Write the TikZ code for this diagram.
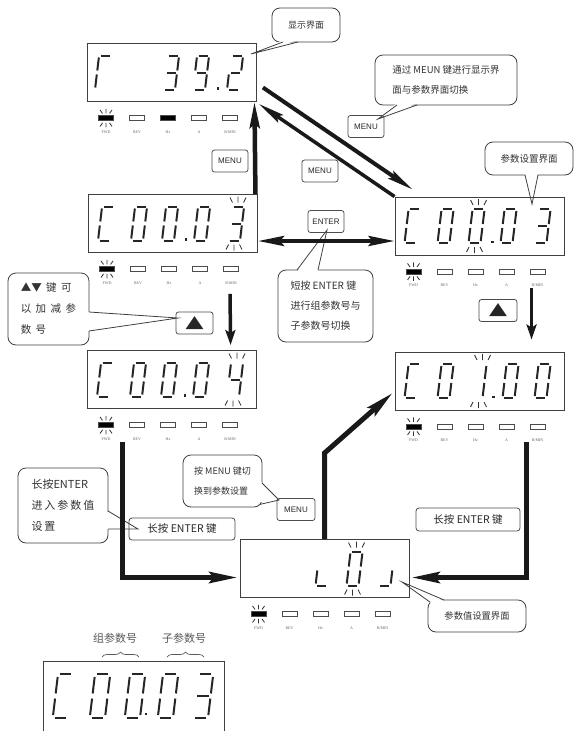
\documentclass[tikz,border=0pt]{standalone}
\usepackage{fontspec}
\setmainfont{Liberation Serif}
\newfontfamily\cjk{Noto Sans CJK SC}
\newfontfamily\btnfont{Liberation Sans}
\newfontfamily\symfont{DejaVu Sans}
\usetikzlibrary{arrows.meta,calc,decorations.pathreplacing}

\tikzset{
  segline/.style={line width=2pt, draw=black!85, line cap=butt},
  blk/.style={line width=0.8pt, draw=black!80},
  disp/.style={draw=black!75, line width=0.9pt, minimum width=169pt, minimum height=58pt, inner sep=0pt},
  ind/.style={draw=black!70, line width=0.6pt, minimum width=15pt, minimum height=5pt, inner sep=0pt},
  indlab/.style={font=\fontsize{4}{4}\selectfont, text=black!60, inner sep=0pt},
  btn/.style={draw=black!70, line width=0.8pt, rounded corners=2.5pt, minimum width=36pt, minimum height=22pt, inner sep=0pt, font=\btnfont\fontsize{8}{8}\selectfont, text=black!85},
  lbox/.style={draw=black!70, line width=0.8pt, rounded corners=3pt, minimum width=106pt, minimum height=22pt, inner sep=0pt, font=\cjk\fontsize{10.5}{12}\selectfont, text=black!85},
  bubble/.style={draw=black!75, line width=0.8pt, rounded corners=8pt, fill=white, inner sep=0pt, align=left, text=black!80},
  bline/.style={draw=black!75, line width=0.8pt},
  bigarr/.style={line width=4.5pt, draw=black!90, -{Stealth[length=26pt,width=10pt,inset=4pt]}},
  diagarr/.style={line width=4pt, draw=black!90, -{Stealth[length=26pt,width=9pt,inset=4pt]}},
  dblarr/.style={line width=4pt, draw=black!90, {Stealth[length=26pt,width=10pt,inset=4pt]}-{Stealth[length=26pt,width=10pt,inset=4pt]}},
  smallarr/.style={line width=3.5pt, draw=black!90, -{Stealth[length=15pt,width=10pt,inset=3pt]}},
  patharr/.style={line width=5pt, draw=black!90, -{Stealth[length=28pt,width=11pt,inset=4pt]}},
  grouplab/.style={font=\cjk\fontsize{11}{12}\selectfont, text=black!65, inner sep=0pt},
}

% seven-segment pieces
\def\dsega{\draw[segline] (-4.5,-17) -- (4.5,-17);}
\def\dsegb{\draw[segline] (6,-15) -- (6,-2);}
\def\dsegc{\draw[segline] (6,2) -- (6,15);}
\def\dsegd{\draw[segline] (-4.5,17) -- (4.5,17);}
\def\dsege{\draw[segline] (-6,2) -- (-6,15);}
\def\dsegf{\draw[segline] (-6,-15) -- (-6,-2);}
\def\dsegg{\draw[segline] (-4.5,0) -- (4.5,0);}
\newcommand\segset[1]{\foreach \s in {#1}{\csname dseg\s\endcsname}}
\newcommand\sdigit[4][1]{\begin{scope}[shift={(#2,#3)},scale=#1,xslant=0.12]\segset{#4}\end{scope}}
\newcommand\segdot[2]{\fill[black!85] (#1-1.4,#2-1.4) rectangle (#1+1.4,#2+1.4);}
\newcommand\blinkmk[1]{%
  \draw[blk] (#1-6,-26) -- (#1-3.5,-21) (#1+2,-27) -- (#1+2,-21) (#1+10,-26) -- (#1+7.5,-21);
  \draw[blk] (#1-10,26) -- (#1-7.5,21) (#1-2,27) -- (#1-2,21) (#1+6,26) -- (#1+3.5,21);}
\newcommand\dpanel[4]{%
  \node[disp] (#1) at (#2,#3) {};
  \begin{scope}[shift={(#1.south west)}]
    \node[ind, fill=black] (#1-fwd) at (19,16) {};
    \node[ind] (#1-rev) at (50,16) {};
    \node[ind, fill=#4] (#1-hz) at (81,16) {};
    \node[ind] (#1-a) at (112,16) {};
    \node[ind] (#1-rmin) at (143,16) {};
    \node[indlab] (#1-fwdl) at (19,30) {FWD};
    \node[indlab] (#1-revl) at (50,30) {REV};
    \node[indlab] (#1-hzl) at (81,30) {Hz};
    \node[indlab] (#1-al) at (112,30) {A};
    \node[indlab] (#1-rminl) at (143,30) {R/MIN};
    \draw[blk] (13,8) -- (15.5,11.5) (19,7) -- (19,11.5) (25,8) -- (22.5,11.5);
    \draw[blk] (13,24.5) -- (15.5,21) (19,25.5) -- (19,21) (25,24.5) -- (22.5,21);
  \end{scope}}
\newcommand\btail[4]{%
  \fill[white] ($(#1)+(#4)$) -- (#3) -- ($(#2)+(#4)$) -- cycle;
  \draw[bline] (#1) -- (#3) -- (#2);}

\begin{document}
\begin{tikzpicture}[x=1pt,y=-1pt]
\useasboundingbox (0,0) rectangle (575,731);
\fill[white] (0,0) rectangle (575,731);

% ---------- callout bubbles ----------
\node[bubble, minimum width=68pt, minimum height=34pt, font=\cjk\fontsize{9}{11}\selectfont] (b1) at (306,25) {显示界面};
\btail{283,42}{298,42}{251,54}{0,-2}

\node[bubble, minimum width=142pt, minimum height=50pt, font=\cjk\fontsize{9.5}{20}\selectfont] (b2) at (446,80) {通过~MEUN~键进行显示界\\面与参数界面切换};
\btail{397,105}{417,105}{378,119}{0,-2}

\node[bubble, minimum width=88pt, minimum height=33pt, font=\cjk\fontsize{9.5}{11}\selectfont] (b3) at (529,158.5) {参数设置界面};
\btail{525,175}{538,175}{532,204}{0,-2}

\node[bubble, minimum width=95pt, minimum height=72pt, font=\cjk\fontsize{10}{20}\selectfont] (b4) at (325.5,306) {短按~ENTER~键\\进行组参数号与\\子参数号切换};
\btail{297,270}{318,270}{327,230}{0,2}

\node[bubble, minimum width=81pt, minimum height=72pt, font=\cjk\fontsize{10.5}{21}\selectfont] (b5) at (48.5,309) {▲▼\hspace{4.5pt}键\hspace{4.5pt}可\\以\hspace{4.5pt}加\hspace{4.5pt}减\hspace{4.5pt}参\\数\hspace{4.5pt}号};
\btail{89,312}{89,331}{178,318}{-2,0}

\node[bubble, minimum width=79pt, minimum height=52pt, font=\cjk\fontsize{9}{20}\selectfont] (b6) at (222.5,481) {按~MENU~键切\\换到参数设置};
\btail{262,483}{259.5,504.5}{279,500}{-2,-2}

\node[bubble, minimum width=90pt, minimum height=75pt, font=\cjk\fontsize{11}{21}\selectfont] (b7) at (63,505.5) {长按ENTER\\进\hspace{2pt}入\hspace{2pt}参\hspace{2pt}数\hspace{2pt}值\\设\hspace{2pt}置};
\btail{108,511}{108,529}{138,529}{-2,0}

\node[bubble, minimum width=98pt, minimum height=32pt, font=\cjk\fontsize{9.3}{11}\selectfont] (b8) at (477,616) {参数值设置界面};
\btail{444,600}{430.3,602.3}{402,582}{2,2}

% ---------- display panels ----------
\dpanel{d1}{172}{72.5}{black}
\dpanel{d2}{173}{223.5}{white}
\dpanel{d3}{479.5}{226}{white}
\dpanel{d4}{172}{379.5}{white}
\dpanel{d5}{479.5}{381}{white}
\dpanel{d6}{324.5}{568.5}{white}

% d1: r  39.2
\begin{scope}[shift={(d1.west)}]
  \sdigit{16}{0}{a,e,f}
  \sdigit{84}{0}{a,b,c,d,g}
  \sdigit{114}{0}{a,b,c,d,f,g}
  \segdot{131}{16}
  \sdigit{148}{0}{a,b,d,e,g}
\end{scope}
% d2: C00.03 (last digit blinking)
\begin{scope}[shift={(d2.west)}]
  \sdigit{18}{0}{a,d,e,f}
  \sdigit{51}{0}{a,b,c,d,e,f}
  \sdigit{82}{0}{a,b,c,d,e,f}
  \segdot{98}{16}
  \sdigit{114}{0}{a,b,c,d,e,f}
  \sdigit{148}{0}{a,b,c,d,g}
  \blinkmk{148}
\end{scope}
% d3: C00.03 (third digit blinking)
\begin{scope}[shift={(d3.west)}]
  \sdigit{18}{0}{a,d,e,f}
  \sdigit{51}{0}{a,b,c,d,e,f}
  \sdigit{82}{0}{a,b,c,d,e,f}
  \segdot{98}{16}
  \sdigit{114}{0}{a,b,c,d,e,f}
  \sdigit{148}{0}{a,b,c,d,g}
  \blinkmk{82}
\end{scope}
% d4: C00.04
\begin{scope}[shift={(d4.west)}]
  \sdigit{18}{0}{a,d,e,f}
  \sdigit{51}{0}{a,b,c,d,e,f}
  \sdigit{82}{0}{a,b,c,d,e,f}
  \segdot{98}{16}
  \sdigit{114}{0}{a,b,c,d,e,f}
  \sdigit{148}{0}{b,c,f,g}
  \blinkmk{148}
\end{scope}
% d5: C01.00
\begin{scope}[shift={(d5.west)}]
  \sdigit{18}{0}{a,d,e,f}
  \sdigit{51}{0}{a,b,c,d,e,f}
  \sdigit{84}{0}{b,c}
  \segdot{99}{16}
  \sdigit{116}{0}{a,b,c,d,e,f}
  \sdigit{148}{0}{a,b,c,d,e,f}
  \blinkmk{86}
\end{scope}
% d6: value setting
\begin{scope}[shift={(d6.west)}]
  \sdigit{84}{0}{d,e}
  \sdigit{115}{0}{a,b,c,d,e,f}
  \sdigit{147}{0}{c,d}
  \blinkmk{115}
\end{scope}

% bottom panel (cut by the page edge)
\node[draw=black!75, line width=0.9pt, minimum width=181pt, minimum height=80pt, inner sep=0pt] (d7) at (133.5,701) {};
\sdigit[1.27]{63}{696}{a,d,e,f}
\sdigit[1.27]{100}{696}{a,b,c,d,e,f}
\sdigit[1.27]{135}{696}{a,b,c,d,e,f}
\segdot{146}{714}
\sdigit[1.27]{168}{696}{a,b,c,d,e,f}
\sdigit[1.27]{203}{696}{a,b,c,d,g}
\node[grouplab] (g1) at (115,638) {组参数号};
\node[grouplab] (g2) at (184,638) {子参数号};
\draw[black!65, line width=0.7pt, decorate, decoration={brace, amplitude=5pt}] (102,657) -- (139,657);
\draw[black!65, line width=0.7pt, decorate, decoration={brace, amplitude=5pt}] (167,657) -- (204,657);

% ---------- key buttons ----------
\node[btn] (m1) at (230,161) {MENU};
\node[btn] (m2) at (366,126.5) {MENU};
\node[btn] (m3) at (320,171) {MENU};
\node[btn] (ent) at (326,221.5) {ENTER};
\node[btn, minimum width=37pt] (up1) at (194.5,323) {\scalebox{1.3}[0.95]{\symfont\fontsize{18}{18}\selectfont ▲}};
\node[btn, minimum width=38pt] (up2) at (498,310.5) {\scalebox{1.3}[0.95]{\symfont\fontsize{18}{18}\selectfont ▲}};
\node[btn, minimum width=38pt] (m4) at (296,509.5) {MENU};
\node[lbox] (lb1) at (182,529) {长按~ENTER~键};
\node[lbox, minimum width=104pt, minimum height=23pt] (lb2) at (468,519.5) {长按~ENTER~键};

% ---------- connectors ----------
\draw[bigarr] ($(d2.north east)+(-2.5,0)$) -- ($(d1.south east)+(-2.5,0)$);

\coordinate (u0) at ($(d1.east)+(6,15)$);
\coordinate (u1) at ($(d3.north west)+(18,-7)$);
\draw[diagarr] (u0) -- (u1);
\coordinate (w1) at ($(d1.south east)+(2,2)$);
\draw[diagarr, line width=3.5pt] (d3.north west) -- (w1);

\coordinate (h0) at ($(d2.east)+(0,17.5)$);
\coordinate (h1) at (d3.west |- h0);
\draw[dblarr] (h0) -- (h1);

\coordinate (dl0) at ($(d2.south west)+(142,41)$);
\coordinate (dl1) at ($(d4.north west)+(143.5,-5)$);
\draw[smallarr] (dl0) -- (dl1);
\coordinate (dr0) at ($(d3.south west)+(137,33)$);
\coordinate (dr1) at ($(d5.north west)+(137,-12)$);
\draw[smallarr] (dr0) -- (dr1);

\coordinate (l0) at ($(d4.south west)+(35.5,33)$);
\coordinate (l1) at ($(d6.west)+(-2,9)$);
\draw[patharr] (l0) |- (l1);

\coordinate (r0) at ($(d5.south west)+(132,32)$);
\coordinate (r1) at ($(d6.east)+(2,9)$);
\draw[patharr] (r0) |- (r1);

\coordinate (p1) at ($(d6.north)+(0,-86)$);
\coordinate (p2) at ($(d5.west)+(-2,12)$);
\draw[patharr] (d6.north) -- (p1) -- (p2);
\end{tikzpicture}
\end{document}
